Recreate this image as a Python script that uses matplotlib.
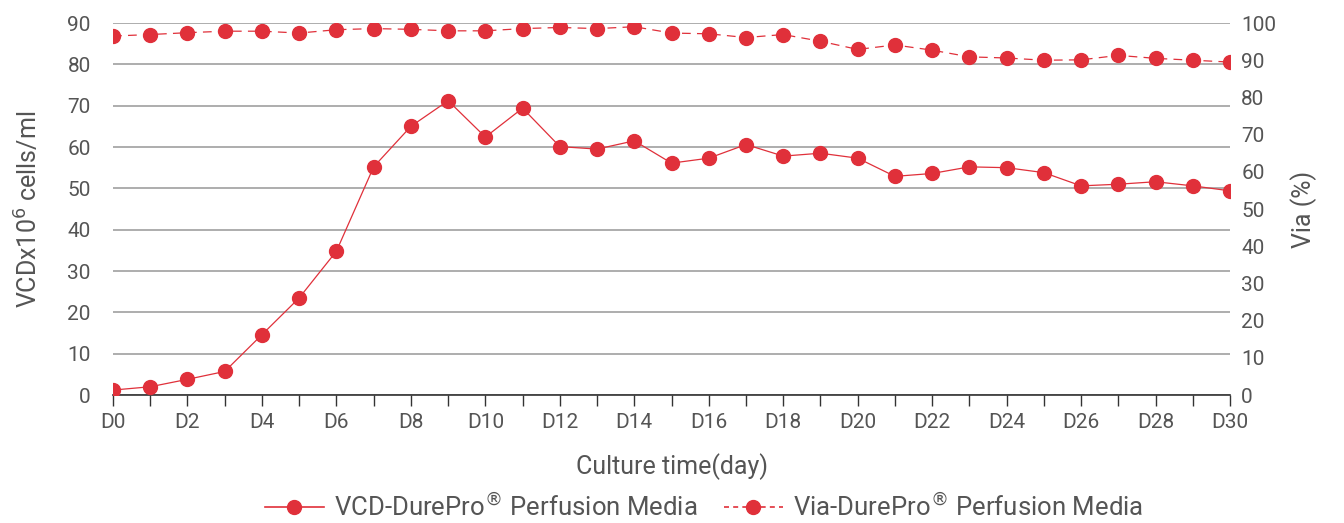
import matplotlib
matplotlib.use('Agg')
import matplotlib.pyplot as plt
from matplotlib.lines import Line2D

# ── Data ───────────────────────────────────────────────────────────────────────
days = list(range(31))
vcd = [1.2, 2.0, 3.8, 5.7, 14.6, 23.5, 34.8, 55.2, 65.0, 71.2, 62.4,
       69.4, 60.1, 59.5, 61.5, 56.1, 57.3, 60.6, 57.8, 58.5, 57.3,
       52.9, 53.6, 55.2, 55.0, 53.8, 50.6, 51.0, 51.6, 50.6, 49.4]
via = [96.5, 96.9, 97.4, 97.8, 97.8, 97.3, 98.2, 98.5, 98.3, 97.9, 97.9,
       98.5, 98.8, 98.5, 99.0, 97.3, 97.1, 96.1, 96.9, 95.1, 92.9,
       94.1, 92.7, 90.9, 90.6, 90.0, 90.1, 91.3, 90.5, 90.0, 89.5]
tick_days = list(range(0, 31, 2))
tick_labels = [f'D{d}' for d in tick_days]

RED = '#e0303a'
TXT = '#555555'
plt.rcParams['font.family'] = ['Roboto', 'DejaVu Sans']

fig = plt.figure(figsize=(13.44, 5.23), dpi=100)
ax = fig.add_axes([0.0841, 0.2447, 0.8311, 0.7113])
ax2 = ax.twinx()

ax.plot(days, vcd, color=RED, lw=0.9, marker='o', ms=10, zorder=3)
ax2.plot(days, via, color=RED, lw=0.9, ls=(0, (7, 5)), marker='o', ms=10, zorder=3)

ax.set_xlim(0, 30)
ax.set_ylim(0, 90)
ax2.set_ylim(0, 100)
ax.set_yticks(range(0, 91, 10))
ax2.set_yticks(range(0, 101, 10))
ax.set_xticks(days, minor=True)
ax.set_xticks(tick_days)
ax.set_xticklabels(tick_labels)

ax.grid(axis='y', color='#a0a0a0', lw=1.2)
ax.set_axisbelow(True)
for a in (ax, ax2):
    for s in ('top', 'left', 'right'):
        a.spines[s].set_visible(False)
ax.spines['bottom'].set_color('#333333')
ax.spines['bottom'].set_linewidth(1.2)
ax2.spines['bottom'].set_visible(False)

ax.tick_params(axis='y', length=0, labelsize=15, colors=TXT, pad=16)
ax2.tick_params(axis='y', length=0, labelsize=15, colors=TXT, pad=8)
ax.tick_params(axis='x', which='both', length=8, width=1, color='#333333',
               direction='out', labelsize=15, labelcolor=TXT, pad=5)

ax.set_ylabel('VCDx10$^6$ cells/ml', fontsize=18, color=TXT, labelpad=18)
ax2.set_ylabel('Via (%)', fontsize=18, color=TXT, labelpad=10)
ax.set_xlabel('Culture time(day)', fontsize=18, color=TXT, labelpad=15)

handles = [Line2D([], [], color=RED, lw=1.2, marker='o', ms=10),
           Line2D([], [], color=RED, lw=1.2, ls=(0, (3, 2.5)), marker='o', ms=10)]
fig.legend(handles, ['VCD-DurePro$^{®}$ Perfusion Media', 'Via-DurePro$^{®}$ Perfusion Media'],
           loc='center', bbox_to_anchor=(0.524, 0.03), ncol=2, frameon=False,
           fontsize=18.5, labelcolor=TXT, handlelength=2.3, handletextpad=0.4,
           columnspacing=1.0, borderpad=0.0)

fig.savefig('out.png', dpi=100)
